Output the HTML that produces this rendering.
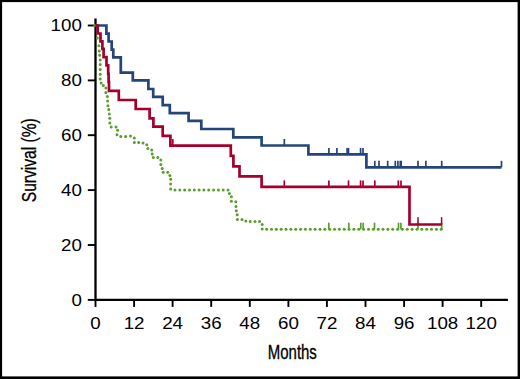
<!DOCTYPE html><html><head><meta charset="utf-8"><title>Survival</title><style>html,body{margin:0;padding:0;background:#fff}svg{display:block}text{font-family:"Liberation Sans",Arial,Helvetica,sans-serif;fill:#000}</style></head><body>
<svg width="520" height="379" viewBox="0 0 520 379">
<rect x="0" y="0" width="520" height="379" fill="#000"/>
<rect x="2.1" y="2.1" width="515.5" height="374.3" fill="#fff"/>
<path d="M95.5 18.5 V299.85 H507.9" fill="none" stroke="#000" stroke-width="2.3"/>
<g stroke="#000" stroke-width="1.9"><line x1="95.5" y1="299.85" x2="95.5" y2="306.9"/><line x1="134.1" y1="299.85" x2="134.1" y2="306.9"/><line x1="172.6" y1="299.85" x2="172.6" y2="306.9"/><line x1="211.2" y1="299.85" x2="211.2" y2="306.9"/><line x1="249.8" y1="299.85" x2="249.8" y2="306.9"/><line x1="288.4" y1="299.85" x2="288.4" y2="306.9"/><line x1="326.9" y1="299.85" x2="326.9" y2="306.9"/><line x1="365.5" y1="299.85" x2="365.5" y2="306.9"/><line x1="404.1" y1="299.85" x2="404.1" y2="306.9"/><line x1="442.6" y1="299.85" x2="442.6" y2="306.9"/><line x1="481.2" y1="299.85" x2="481.2" y2="306.9"/><line x1="87.8" y1="299.9" x2="95.5" y2="299.9"/><line x1="87.8" y1="245.0" x2="95.5" y2="245.0"/><line x1="87.8" y1="190.1" x2="95.5" y2="190.1"/><line x1="87.8" y1="135.2" x2="95.5" y2="135.2"/><line x1="87.8" y1="80.4" x2="95.5" y2="80.4"/><line x1="87.8" y1="25.5" x2="95.5" y2="25.5"/></g>
<g fill="#5a9e2b"><circle cx="94.9" cy="25.5" r="1.5"/><circle cx="97.3" cy="38.1" r="1.5"/><circle cx="98.9" cy="45.8" r="1.5"/><circle cx="99.2" cy="51.0" r="1.5"/><circle cx="99.7" cy="55.2" r="1.5"/><circle cx="100.2" cy="59.9" r="1.5"/><circle cx="100.2" cy="64.6" r="1.5"/><circle cx="100.2" cy="69.5" r="1.5"/><circle cx="100.2" cy="74.2" r="1.5"/><circle cx="100.2" cy="79.0" r="1.5"/><circle cx="101.1" cy="82.9" r="1.5"/><circle cx="103.3" cy="85.4" r="1.5"/><circle cx="105.9" cy="87.9" r="1.5"/><circle cx="105.9" cy="92.6" r="1.5"/><circle cx="107.4" cy="96.5" r="1.5"/><circle cx="107.6" cy="101.1" r="1.5"/><circle cx="107.9" cy="105.7" r="1.5"/><circle cx="108.8" cy="109.6" r="1.5"/><circle cx="109.3" cy="113.9" r="1.5"/><circle cx="109.8" cy="118.3" r="1.5"/><circle cx="109.8" cy="123.1" r="1.5"/><circle cx="111.2" cy="127.0" r="1.5"/><circle cx="116.0" cy="127.0" r="1.5"/><circle cx="117.6" cy="130.2" r="1.5"/><circle cx="117.0" cy="134.7" r="1.5"/><circle cx="120.8" cy="136.4" r="1.5"/><circle cx="125.6" cy="136.4" r="1.5"/><circle cx="130.5" cy="136.0" r="1.5"/><circle cx="134.3" cy="137.9" r="1.5"/><circle cx="134.3" cy="142.4" r="1.5"/><circle cx="138.7" cy="142.4" r="1.5"/><circle cx="143.0" cy="143.1" r="1.5"/><circle cx="146.8" cy="144.7" r="1.5"/><circle cx="147.8" cy="148.5" r="1.5"/><circle cx="151.7" cy="149.9" r="1.5"/><circle cx="152.2" cy="153.9" r="1.5"/><circle cx="153.3" cy="157.4" r="1.5"/><circle cx="157.8" cy="157.5" r="1.5"/><circle cx="160.8" cy="159.9" r="1.5"/><circle cx="160.8" cy="164.5" r="1.5"/><circle cx="162.2" cy="168.4" r="1.5"/><circle cx="163.2" cy="172.2" r="1.5"/><circle cx="167.7" cy="172.2" r="1.5"/><circle cx="169.9" cy="175.5" r="1.5"/><circle cx="170.7" cy="179.2" r="1.5"/><circle cx="170.6" cy="184.1" r="1.5"/><circle cx="170.6" cy="188.9" r="1.5"/><circle cx="175.0" cy="189.9" r="1.5"/><circle cx="179.8" cy="189.9" r="1.5"/><circle cx="184.6" cy="189.9" r="1.5"/><circle cx="189.5" cy="189.9" r="1.5"/><circle cx="194.3" cy="189.9" r="1.5"/><circle cx="199.1" cy="189.9" r="1.5"/><circle cx="203.9" cy="189.9" r="1.5"/><circle cx="208.7" cy="189.9" r="1.5"/><circle cx="213.6" cy="189.9" r="1.5"/><circle cx="218.4" cy="189.9" r="1.5"/><circle cx="223.2" cy="189.9" r="1.5"/><circle cx="228.0" cy="189.9" r="1.5"/><circle cx="229.4" cy="193.4" r="1.5"/><circle cx="231.4" cy="196.8" r="1.5"/><circle cx="231.4" cy="201.2" r="1.5"/><circle cx="235.8" cy="201.7" r="1.5"/><circle cx="236.0" cy="206.4" r="1.5"/><circle cx="236.3" cy="210.8" r="1.5"/><circle cx="237.2" cy="214.8" r="1.5"/><circle cx="237.4" cy="219.4" r="1.5"/><circle cx="242.0" cy="219.4" r="1.5"/><circle cx="245.8" cy="221.0" r="1.5"/><circle cx="250.2" cy="221.4" r="1.5"/><circle cx="255.0" cy="221.4" r="1.5"/><circle cx="259.5" cy="221.4" r="1.5"/><circle cx="262.2" cy="224.5" r="1.5"/><circle cx="262.2" cy="229.1" r="1.5"/><circle cx="266.6" cy="229.2" r="1.5"/><circle cx="271.5" cy="229.2" r="1.5"/><circle cx="276.3" cy="229.2" r="1.5"/><circle cx="281.2" cy="229.2" r="1.5"/><circle cx="286.0" cy="229.2" r="1.5"/><circle cx="290.9" cy="229.2" r="1.5"/><circle cx="295.7" cy="229.2" r="1.5"/><circle cx="300.6" cy="229.2" r="1.5"/><circle cx="305.4" cy="229.2" r="1.5"/><circle cx="310.3" cy="229.2" r="1.5"/><circle cx="315.1" cy="229.2" r="1.5"/><circle cx="320.0" cy="229.2" r="1.5"/><circle cx="324.8" cy="229.2" r="1.5"/><circle cx="329.7" cy="229.2" r="1.5"/><circle cx="334.5" cy="229.2" r="1.5"/><circle cx="339.4" cy="229.2" r="1.5"/><circle cx="344.2" cy="229.2" r="1.5"/><circle cx="349.1" cy="229.2" r="1.5"/><circle cx="353.9" cy="229.2" r="1.5"/><circle cx="358.8" cy="229.2" r="1.5"/><circle cx="363.6" cy="229.2" r="1.5"/><circle cx="368.5" cy="229.2" r="1.5"/><circle cx="373.3" cy="229.2" r="1.5"/><circle cx="378.2" cy="229.2" r="1.5"/><circle cx="383.0" cy="229.2" r="1.5"/><circle cx="387.9" cy="229.2" r="1.5"/><circle cx="392.7" cy="229.2" r="1.5"/><circle cx="397.6" cy="229.2" r="1.5"/><circle cx="402.4" cy="229.2" r="1.5"/><circle cx="407.3" cy="229.2" r="1.5"/><circle cx="412.1" cy="229.2" r="1.5"/><circle cx="417.0" cy="229.2" r="1.5"/><circle cx="421.8" cy="229.2" r="1.5"/><circle cx="426.7" cy="229.2" r="1.5"/><circle cx="431.5" cy="229.2" r="1.5"/><circle cx="436.4" cy="229.2" r="1.5"/><circle cx="441.2" cy="229.2" r="1.5"/></g>
<line x1="328.8" y1="229.2" x2="328.8" y2="222.7" stroke="#5a9e2b" stroke-width="1.7"/><line x1="348.8" y1="229.2" x2="348.8" y2="222.7" stroke="#5a9e2b" stroke-width="1.7"/><line x1="360.8" y1="229.2" x2="360.8" y2="222.7" stroke="#5a9e2b" stroke-width="1.7"/><line x1="363.2" y1="229.2" x2="363.2" y2="222.7" stroke="#5a9e2b" stroke-width="1.7"/><line x1="374.5" y1="229.2" x2="374.5" y2="222.7" stroke="#5a9e2b" stroke-width="1.7"/><line x1="398.5" y1="229.2" x2="398.5" y2="222.7" stroke="#5a9e2b" stroke-width="1.7"/><line x1="400.9" y1="229.2" x2="400.9" y2="222.7" stroke="#5a9e2b" stroke-width="1.7"/><line x1="418.0" y1="229.2" x2="418.0" y2="222.7" stroke="#5a9e2b" stroke-width="1.7"/><line x1="441.7" y1="229.2" x2="441.7" y2="222.7" stroke="#5a9e2b" stroke-width="1.7"/>
<path d="M95.5 25.5 L106.4 25.5 L106.4 33.6 L108.6 33.6 L108.6 41.5 L111.7 41.5 L111.7 49.6 L113.3 49.6 L113.3 57.4 L120.8 57.4 L120.8 72.6 L132.8 72.6 L132.8 80.4 L148.4 80.4 L148.4 89.0 L153.2 89.0 L153.2 96.8 L162.7 96.8 L162.7 105.2 L169.8 105.2 L169.8 113.2 L188.6 113.2 L188.6 120.8 L201.3 120.8 L201.3 129.0 L233.3 129.0 L233.3 137.3 L261.6 137.3 L261.6 145.5 L308.4 145.5 L308.4 154.4 L366.4 154.4 L366.4 167.3 L501.5 167.3" fill="none" stroke="#25447c" stroke-width="2.7" stroke-linejoin="miter"/>
<line x1="284.3" y1="145.5" x2="284.3" y2="139.0" stroke="#25447c" stroke-width="1.7"/><line x1="328.9" y1="154.4" x2="328.9" y2="147.9" stroke="#25447c" stroke-width="1.7"/><line x1="336.9" y1="154.4" x2="336.9" y2="147.9" stroke="#25447c" stroke-width="1.7"/><line x1="347.1" y1="154.4" x2="347.1" y2="147.9" stroke="#25447c" stroke-width="1.7"/><line x1="348.5" y1="154.4" x2="348.5" y2="147.9" stroke="#25447c" stroke-width="1.7"/><line x1="360.6" y1="154.4" x2="360.6" y2="147.9" stroke="#25447c" stroke-width="1.7"/><line x1="363.0" y1="154.4" x2="363.0" y2="147.9" stroke="#25447c" stroke-width="1.7"/><line x1="374.8" y1="167.3" x2="374.8" y2="160.8" stroke="#25447c" stroke-width="1.7"/><line x1="379.0" y1="167.3" x2="379.0" y2="160.8" stroke="#25447c" stroke-width="1.7"/><line x1="387.7" y1="167.3" x2="387.7" y2="160.8" stroke="#25447c" stroke-width="1.7"/><line x1="395.3" y1="167.3" x2="395.3" y2="160.8" stroke="#25447c" stroke-width="1.7"/><line x1="397.9" y1="167.3" x2="397.9" y2="160.8" stroke="#25447c" stroke-width="1.7"/><line x1="400.3" y1="167.3" x2="400.3" y2="160.8" stroke="#25447c" stroke-width="1.7"/><line x1="401.2" y1="167.3" x2="401.2" y2="160.8" stroke="#25447c" stroke-width="1.7"/><line x1="418.0" y1="167.3" x2="418.0" y2="160.8" stroke="#25447c" stroke-width="1.7"/><line x1="425.9" y1="167.3" x2="425.9" y2="160.8" stroke="#25447c" stroke-width="1.7"/><line x1="441.7" y1="167.3" x2="441.7" y2="160.8" stroke="#25447c" stroke-width="1.7"/><line x1="501.5" y1="167.3" x2="501.5" y2="160.8" stroke="#25447c" stroke-width="1.7"/>
<path d="M95.5 25.5 L97.7 25.5 L97.7 33.5 L100.5 33.5 L100.5 41.4 L102.4 41.4 L102.4 48.9 L103.6 48.9 L103.6 57.2 L106.5 57.2 L106.5 65.4 L108.2 65.4 L108.2 73.8 L108.6 73.8 L108.6 81.8 L109.0 81.8 L109.0 90.8 L118.8 90.8 L118.8 100.0 L135.7 100.0 L135.7 109.0 L149.6 109.0 L149.6 118.3 L153.4 118.3 L153.4 126.6 L162.7 126.6 L162.7 135.9 L170.4 135.9 L170.4 145.6 L230.8 145.6 L230.8 155.8 L233.4 155.8 L233.4 166.3 L239.5 166.3 L239.5 176.4 L261.6 176.4 L261.6 186.9 L409.5 186.9 L409.5 224.5 L441.7 224.5" fill="none" stroke="#a4002d" stroke-width="2.7" stroke-linejoin="miter"/>
<line x1="172.8" y1="145.6" x2="172.8" y2="139.1" stroke="#a4002d" stroke-width="1.7"/><line x1="284.3" y1="186.9" x2="284.3" y2="180.4" stroke="#a4002d" stroke-width="1.7"/><line x1="328.9" y1="186.9" x2="328.9" y2="180.4" stroke="#a4002d" stroke-width="1.7"/><line x1="348.5" y1="186.9" x2="348.5" y2="180.4" stroke="#a4002d" stroke-width="1.7"/><line x1="360.6" y1="186.9" x2="360.6" y2="180.4" stroke="#a4002d" stroke-width="1.7"/><line x1="363.0" y1="186.9" x2="363.0" y2="180.4" stroke="#a4002d" stroke-width="1.7"/><line x1="374.8" y1="186.9" x2="374.8" y2="180.4" stroke="#a4002d" stroke-width="1.7"/><line x1="398.3" y1="186.9" x2="398.3" y2="180.4" stroke="#a4002d" stroke-width="1.7"/><line x1="401.0" y1="186.9" x2="401.0" y2="180.4" stroke="#a4002d" stroke-width="1.7"/>
<line x1="418.0" y1="224.5" x2="418.0" y2="217.2" stroke="#a4002d" stroke-width="1.5"/><line x1="441.6" y1="224.5" x2="441.6" y2="217.2" stroke="#a4002d" stroke-width="1.5"/>
<g font-size="16.6" text-anchor="end"><text transform="translate(81.9 305.8) scale(1.13 1)">0</text><text transform="translate(81.9 250.9) scale(1.13 1)">20</text><text transform="translate(81.9 196.0) scale(1.13 1)">40</text><text transform="translate(81.9 141.1) scale(1.13 1)">60</text><text transform="translate(81.9 86.3) scale(1.13 1)">80</text><text transform="translate(81.9 31.4) scale(1.13 1)">100</text></g>
<g font-size="16.6" text-anchor="middle"><text transform="translate(95.5 329.4) scale(1.13 1)">0</text><text transform="translate(134.1 329.4) scale(1.13 1)">12</text><text transform="translate(172.6 329.4) scale(1.13 1)">24</text><text transform="translate(211.2 329.4) scale(1.13 1)">36</text><text transform="translate(249.8 329.4) scale(1.13 1)">48</text><text transform="translate(288.4 329.4) scale(1.13 1)">60</text><text transform="translate(326.9 329.4) scale(1.13 1)">72</text><text transform="translate(365.5 329.4) scale(1.13 1)">84</text><text transform="translate(404.1 329.4) scale(1.13 1)">96</text><text transform="translate(442.6 329.4) scale(1.13 1)">108</text><text transform="translate(481.2 329.4) scale(1.13 1)">120</text></g>
<text transform="translate(292.3 359.3) scale(0.72 1)" font-size="20.8" text-anchor="middle" stroke="#000" stroke-width="0.35">Months</text>
<text transform="translate(36.2 160.2) rotate(-90) scale(0.795 1)" font-size="19.6" text-anchor="middle" stroke="#000" stroke-width="0.3">Survival (%)</text>
</svg></body></html>
